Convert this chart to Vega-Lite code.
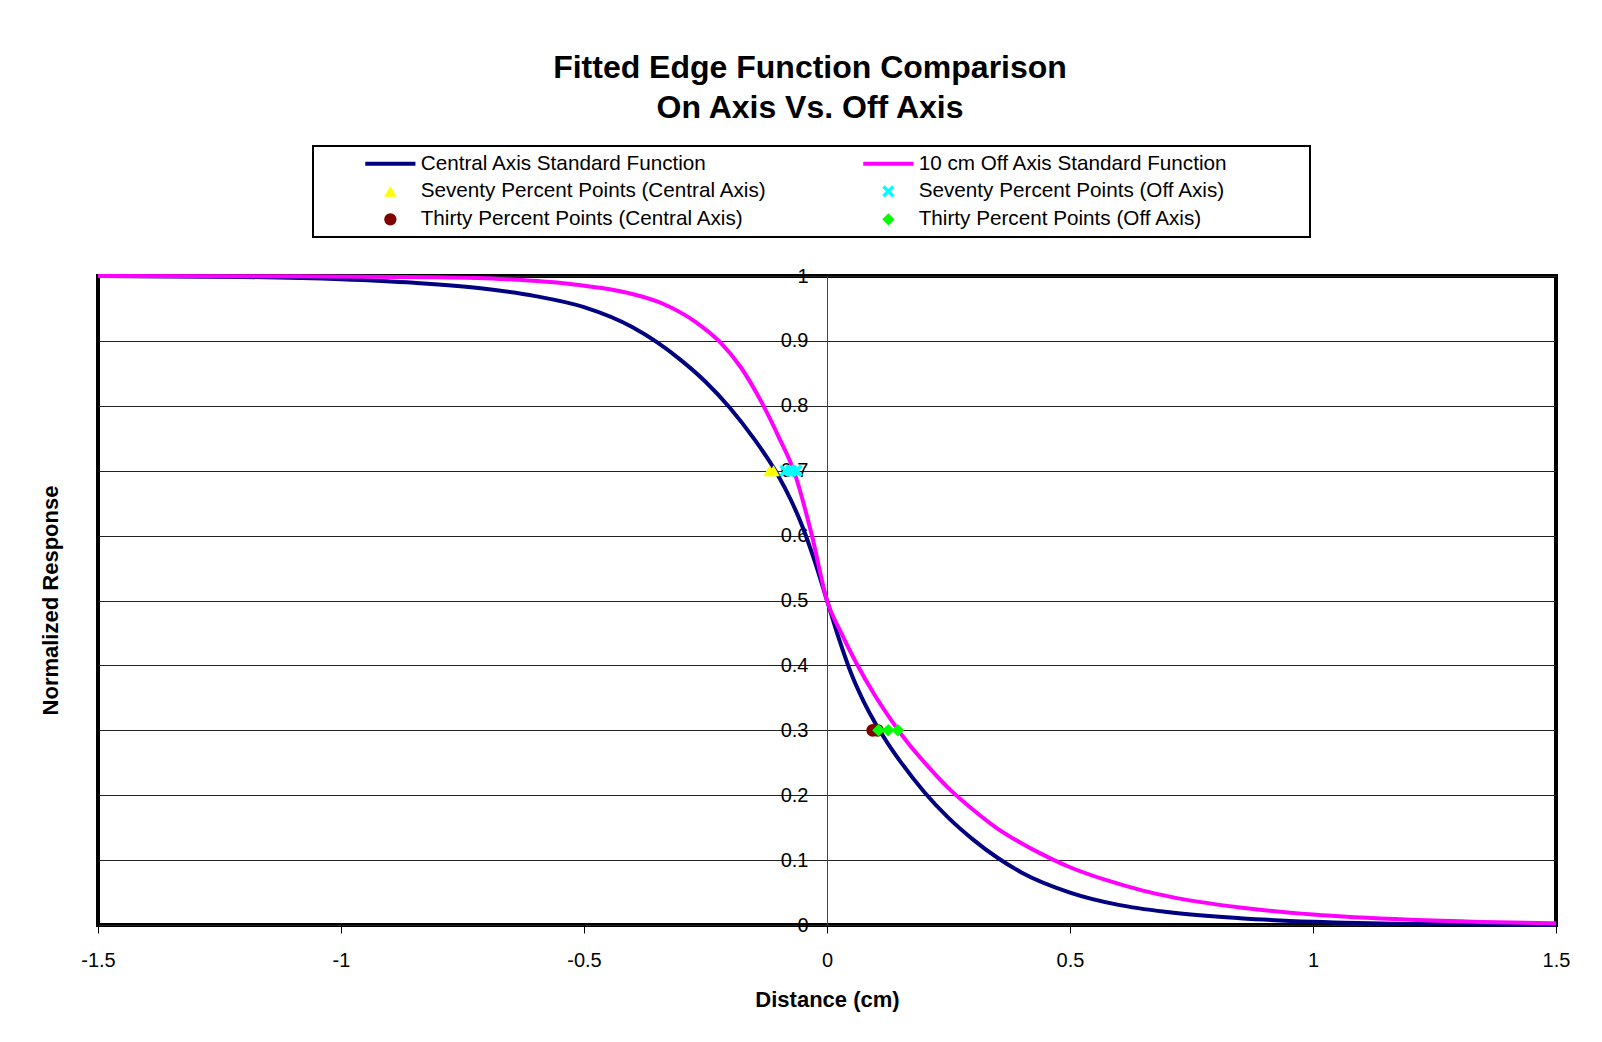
{
  "$schema": "https://vega.github.io/schema/vega-lite/v6.json",
  "width": 1458,
  "height": 649,
  "autosize": {"type": "none"},
  "padding": {"left": 98, "top": 276, "right": 46, "bottom": 117},
  "background": "white",
  "config": {
    "font": "Liberation Sans",
    "view": {"stroke": "#000000", "strokeWidth": 4},
    "axis": {
      "labelFont": "Liberation Sans",
      "titleFont": "Liberation Sans",
      "labelColor": "#000000",
      "titleColor": "#000000",
      "labelFontSize": 20,
      "titleFontSize": 22,
      "titleFontWeight": "bold"
    }
  },
  "title": {
    "text": ["Fitted Edge Function Comparison", "On Axis Vs. Off Axis"],
    "font": "Liberation Sans",
    "fontSize": 32,
    "fontWeight": "bold",
    "lineHeight": 40,
    "color": "#000000",
    "anchor": "middle",
    "dx": -17,
    "offset": 20
  },
  "datasets": {
    "curves": [
      {"series": "Central Axis Standard Function", "x": -1.5, "y": 1.0},
      {"series": "Central Axis Standard Function", "x": -1.2, "y": 0.9985},
      {"series": "Central Axis Standard Function", "x": -1.0, "y": 0.995},
      {"series": "Central Axis Standard Function", "x": -0.85, "y": 0.9895},
      {"series": "Central Axis Standard Function", "x": -0.7, "y": 0.98},
      {"series": "Central Axis Standard Function", "x": -0.6, "y": 0.969},
      {"series": "Central Axis Standard Function", "x": -0.5, "y": 0.952},
      {"series": "Central Axis Standard Function", "x": -0.4, "y": 0.921},
      {"series": "Central Axis Standard Function", "x": -0.35, "y": 0.898},
      {"series": "Central Axis Standard Function", "x": -0.3, "y": 0.87},
      {"series": "Central Axis Standard Function", "x": -0.25, "y": 0.837},
      {"series": "Central Axis Standard Function", "x": -0.2, "y": 0.797},
      {"series": "Central Axis Standard Function", "x": -0.15, "y": 0.749},
      {"series": "Central Axis Standard Function", "x": -0.125, "y": 0.722},
      {"series": "Central Axis Standard Function", "x": -0.1, "y": 0.692},
      {"series": "Central Axis Standard Function", "x": -0.075, "y": 0.656},
      {"series": "Central Axis Standard Function", "x": -0.05, "y": 0.613},
      {"series": "Central Axis Standard Function", "x": -0.025, "y": 0.56},
      {"series": "Central Axis Standard Function", "x": 0, "y": 0.5},
      {"series": "Central Axis Standard Function", "x": 0.025, "y": 0.44},
      {"series": "Central Axis Standard Function", "x": 0.05, "y": 0.387},
      {"series": "Central Axis Standard Function", "x": 0.075, "y": 0.345},
      {"series": "Central Axis Standard Function", "x": 0.1, "y": 0.31},
      {"series": "Central Axis Standard Function", "x": 0.125, "y": 0.28},
      {"series": "Central Axis Standard Function", "x": 0.15, "y": 0.253},
      {"series": "Central Axis Standard Function", "x": 0.2, "y": 0.205},
      {"series": "Central Axis Standard Function", "x": 0.25, "y": 0.165},
      {"series": "Central Axis Standard Function", "x": 0.3, "y": 0.132},
      {"series": "Central Axis Standard Function", "x": 0.35, "y": 0.104},
      {"series": "Central Axis Standard Function", "x": 0.4, "y": 0.081},
      {"series": "Central Axis Standard Function", "x": 0.5, "y": 0.05},
      {"series": "Central Axis Standard Function", "x": 0.6, "y": 0.031},
      {"series": "Central Axis Standard Function", "x": 0.7, "y": 0.02},
      {"series": "Central Axis Standard Function", "x": 0.85, "y": 0.0105},
      {"series": "Central Axis Standard Function", "x": 1.0, "y": 0.005},
      {"series": "Central Axis Standard Function", "x": 1.2, "y": 0.0015},
      {"series": "Central Axis Standard Function", "x": 1.5, "y": 0.0},
      {"series": "10 cm Off Axis Standard Function", "x": -1.5, "y": 1.0},
      {"series": "10 cm Off Axis Standard Function", "x": -1.1, "y": 0.9997},
      {"series": "10 cm Off Axis Standard Function", "x": -0.8, "y": 0.998},
      {"series": "10 cm Off Axis Standard Function", "x": -0.66, "y": 0.995},
      {"series": "10 cm Off Axis Standard Function", "x": -0.52, "y": 0.987},
      {"series": "10 cm Off Axis Standard Function", "x": -0.41, "y": 0.974},
      {"series": "10 cm Off Axis Standard Function", "x": -0.34, "y": 0.958},
      {"series": "10 cm Off Axis Standard Function", "x": -0.27, "y": 0.929},
      {"series": "10 cm Off Axis Standard Function", "x": -0.22, "y": 0.898},
      {"series": "10 cm Off Axis Standard Function", "x": -0.177, "y": 0.859},
      {"series": "10 cm Off Axis Standard Function", "x": -0.135, "y": 0.806},
      {"series": "10 cm Off Axis Standard Function", "x": -0.1, "y": 0.753},
      {"series": "10 cm Off Axis Standard Function", "x": -0.067, "y": 0.697},
      {"series": "10 cm Off Axis Standard Function", "x": -0.031, "y": 0.6},
      {"series": "10 cm Off Axis Standard Function", "x": 0, "y": 0.5},
      {"series": "10 cm Off Axis Standard Function", "x": 0.03, "y": 0.449},
      {"series": "10 cm Off Axis Standard Function", "x": 0.06, "y": 0.404},
      {"series": "10 cm Off Axis Standard Function", "x": 0.1, "y": 0.352},
      {"series": "10 cm Off Axis Standard Function", "x": 0.13, "y": 0.318},
      {"series": "10 cm Off Axis Standard Function", "x": 0.165, "y": 0.282},
      {"series": "10 cm Off Axis Standard Function", "x": 0.2, "y": 0.251},
      {"series": "10 cm Off Axis Standard Function", "x": 0.25, "y": 0.211},
      {"series": "10 cm Off Axis Standard Function", "x": 0.3, "y": 0.178},
      {"series": "10 cm Off Axis Standard Function", "x": 0.35, "y": 0.149},
      {"series": "10 cm Off Axis Standard Function", "x": 0.4, "y": 0.126},
      {"series": "10 cm Off Axis Standard Function", "x": 0.44, "y": 0.11},
      {"series": "10 cm Off Axis Standard Function", "x": 0.5, "y": 0.089},
      {"series": "10 cm Off Axis Standard Function", "x": 0.575, "y": 0.069},
      {"series": "10 cm Off Axis Standard Function", "x": 0.65, "y": 0.053},
      {"series": "10 cm Off Axis Standard Function", "x": 0.71, "y": 0.043},
      {"series": "10 cm Off Axis Standard Function", "x": 0.85, "y": 0.027},
      {"series": "10 cm Off Axis Standard Function", "x": 1.0, "y": 0.016},
      {"series": "10 cm Off Axis Standard Function", "x": 1.2, "y": 0.008},
      {"series": "10 cm Off Axis Standard Function", "x": 1.35, "y": 0.0047},
      {"series": "10 cm Off Axis Standard Function", "x": 1.5, "y": 0.0028}
    ],
    "points": [
      {"series": "Seventy Percent Points (Central Axis)", "x": -0.118, "y": 0.7},
      {"series": "Seventy Percent Points (Central Axis)", "x": -0.11, "y": 0.7},
      {"series": "Seventy Percent Points (Off Axis)", "x": -0.085, "y": 0.7},
      {"series": "Seventy Percent Points (Off Axis)", "x": -0.074, "y": 0.7},
      {"series": "Seventy Percent Points (Off Axis)", "x": -0.063, "y": 0.7},
      {"series": "Thirty Percent Points (Central Axis)", "x": 0.094, "y": 0.3},
      {"series": "Thirty Percent Points (Central Axis)", "x": 0.104, "y": 0.3},
      {"series": "Thirty Percent Points (Off Axis)", "x": 0.106, "y": 0.3},
      {"series": "Thirty Percent Points (Off Axis)", "x": 0.126, "y": 0.3},
      {"series": "Thirty Percent Points (Off Axis)", "x": 0.146, "y": 0.3}
    ]
  },
  "encoding": {
    "x": {
      "field": "x",
      "type": "quantitative",
      "scale": {"domain": [-1.5, 1.5], "nice": false, "zero": false},
      "axis": {
        "title": "Distance (cm)",
        "values": [-1.5, -1, -0.5, 0, 0.5, 1, 1.5],
        "labelExpr": "toString(datum.value)",
        "grid": false,
        "domain": false,
        "ticks": true,
        "tickSize": 8,
        "tickColor": "#000000",
        "tickWidth": 1,
        "labelPadding": 17,
        "labelFlush": false,
        "labelOverlap": false,
        "titlePadding": 19
      }
    },
    "y": {
      "field": "y",
      "type": "quantitative",
      "scale": {"domain": [0, 1], "nice": false},
      "axis": {
        "title": "Normalized Response",
        "values": [0, 0.1, 0.2, 0.3, 0.4, 0.5, 0.6, 0.7, 0.8, 0.9, 1],
        "labelExpr": "toString(datum.value)",
        "offset": -729,
        "grid": true,
        "gridColor": "#222222",
        "gridWidth": 1,
        "domain": true,
        "domainColor": "#444444",
        "domainWidth": 1,
        "ticks": false,
        "labelPadding": 19,
        "labelOverlap": false,
        "titleX": -777,
        "titleY": 324,
        "titleAngle": -90,
        "titleAlign": "center",
        "titleBaseline": "middle"
      }
    }
  },
  "layer": [
    {
      "data": {"name": "curves"},
      "mark": {"type": "line", "strokeWidth": 4, "interpolate": "monotone", "clip": false},
      "encoding": {
        "stroke": {
          "field": "series",
          "type": "nominal",
          "scale": {
            "domain": ["Central Axis Standard Function", "10 cm Off Axis Standard Function"],
            "range": ["#000080", "#FF00FF"]
          },
          "legend": null
        }
      }
    },
    {
      "data": {"name": "points"},
      "mark": {"type": "point", "filled": true, "opacity": 1, "size": 160, "clip": false},
      "encoding": {
        "color": {
          "field": "series",
          "type": "nominal",
          "scale": {
            "domain": ["Central Axis Standard Function", "Seventy Percent Points (Central Axis)", "Thirty Percent Points (Central Axis)", "10 cm Off Axis Standard Function", "Seventy Percent Points (Off Axis)", "Thirty Percent Points (Off Axis)"],
            "range": ["#000080", "#FFFF00", "#800000", "#FF00FF", "#00FFFF", "#00FF00"]
          },
          "legend": {
            "orient": "none",
            "legendX": 215,
            "legendY": -130,
            "columns": 2,
            "title": null,
            "padding": 7,
            "rowPadding": 6,
            "columnPadding": 51,
            "labelFont": "Liberation Sans",
            "labelFontSize": 20.7,
            "labelColor": "#000000",
            "labelLimit": 800,
            "labelOffset": 20,
            "symbolOffset": 60,
            "symbolSize": 150,
            "symbolOpacity": 1,
            "symbolStrokeWidth": 0,
            "encode": {"legend": {"update": {"stroke": {"value": "#000000"}, "strokeWidth": {"value": 2}}}}
          }
        },
        "shape": {
          "field": "series",
          "type": "nominal",
          "scale": {
            "domain": ["Central Axis Standard Function", "Seventy Percent Points (Central Axis)", "Thirty Percent Points (Central Axis)", "10 cm Off Axis Standard Function", "Seventy Percent Points (Off Axis)", "Thirty Percent Points (Off Axis)"],
            "range": ["M-4.1,-0.33H4.1V0.33H-4.1Z", "triangle-up", "circle", "M-4.1,-0.33H4.1V0.33H-4.1ZM67.6,0L67.6,0", "M-1,-0.6L-0.6,-1L0,-0.4L0.6,-1L1,-0.6L0.4,0L1,0.6L0.6,1L0,0.4L-0.6,1L-1,0.6L-0.4,0Z", "diamond"]
          },
          "legend": {
            "orient": "none",
            "legendX": 215,
            "legendY": -130,
            "columns": 2,
            "title": null,
            "padding": 7,
            "rowPadding": 6,
            "columnPadding": 51,
            "labelFont": "Liberation Sans",
            "labelFontSize": 20.7,
            "labelColor": "#000000",
            "labelLimit": 800,
            "labelOffset": 20,
            "symbolOffset": 60,
            "symbolSize": 150,
            "symbolOpacity": 1,
            "symbolStrokeWidth": 0,
            "encode": {"legend": {"update": {"stroke": {"value": "#000000"}, "strokeWidth": {"value": 2}}}}
          }
        }
      }
    }
  ]
}
